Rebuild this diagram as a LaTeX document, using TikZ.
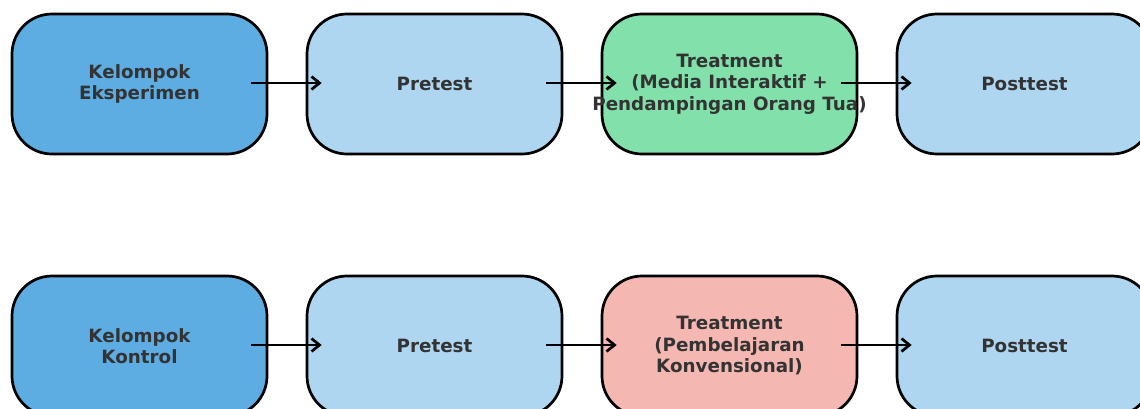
\documentclass[tikz,border=0pt]{standalone}
\usepackage{fontspec}
\setmainfont{DejaVu Sans}
\usetikzlibrary{arrows.meta}
\definecolor{dblue}{HTML}{5DADE2}
\definecolor{lblue}{HTML}{AED6F1}
\definecolor{lgreen}{HTML}{82E0AA}
\definecolor{lpink}{HTML}{F5B7B1}
\definecolor{txt}{HTML}{333333}
\begin{document}
\begin{tikzpicture}[x=1pt,y=-1pt,
  stagebox/.style={draw=black, line width=2.7pt, rounded corners=40pt,
    minimum width=255pt, minimum height=140pt, align=center, inner sep=0pt,
    font=\fontsize{18.3}{21.5}\selectfont\bfseries, text=txt},
  flow/.style={line width=2.7pt, -{Straight Barb[length=8pt,width=13pt,line width=2.7pt]}}]
\useasboundingbox (0,0) rectangle (1140,408);
\clip (0,0) rectangle (1140,408);
\node[stagebox, fill=dblue]  (e1) at (139.5,84) {Kelompok\\Eksperimen};
\node[stagebox, fill=lblue]  (e2) at (434.5,84) {Pretest};
\node[stagebox, fill=lgreen] (e3) at (729.5,84) {Treatment\\(Media Interaktif +\\\makebox[0pt]{Pendampingan Orang Tua)}};
\node[stagebox, fill=lblue]  (e4) at (1024.5,84) {Posttest};
\node[stagebox, fill=dblue]  (k1) at (139.5,346) {Kelompok\\Kontrol};
\node[stagebox, fill=lblue]  (k2) at (434.5,346) {Pretest};
\node[stagebox, fill=lpink]  (k3) at (729.5,346) {Treatment\\(Pembelajaran\\Konvensional)};
\node[stagebox, fill=lblue]  (k4) at (1024.5,346) {Posttest};
\foreach \a/\b in {e1/e2,e2/e3,e3/e4,k1/k2,k2/k3,k3/k4}
  \draw[flow] ([xshift=-17pt,yshift=1pt]\a.east) -- ([xshift=16pt,yshift=1pt]\b.west);
\end{tikzpicture}
\end{document}
